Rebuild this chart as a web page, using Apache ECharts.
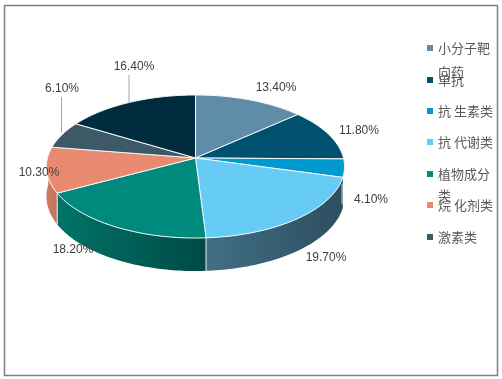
<!DOCTYPE html>
<html><head><meta charset="utf-8">
<style>html,body{margin:0;padding:0;background:#fff}#c{width:502px;height:379px}</style>
<script src="https://cdn.jsdelivr.net/npm/echarts@6/dist/echarts.min.js"></script>
</head><body><div id="c"></div>
<script>
const categories = ['小分子靶向药','单抗','抗 生素类','抗 代谢类','植物成分类','烷 化剂类','激素类','其他'];
const legendFirstLines = ['小分子靶','单抗','抗 生素类','抗 代谢类','植物成分','烷 化剂类','激素类'];
const legendSecondLines = ['向药','','','','类','',''];
const shares = [13.4,11.8,4.1,19.7,18.2,10.3,6.1,16.4];
const colors = ['#5f8ca6','#00506f','#0099d0','#66ccf5','#008a7e','#e88a70','#3d5866','#002c3f'];
const sideColors = [null,null,null,['#426f85','#2d4e5f'],['#007468','#004a45'],['#cb7a60','#c67358'],null,null];
const labelAnchors = [[276,88],[359,131],[371,200],[326,258],[73,250],[39,173],[62,89],[134,67]];
const leaders = [null,null,[[342,184],[342,204]],null,null,null,[[61.5,133],[61.5,97]],[[129,103],[129,75]]];
const legendCenters = [48,80,111,142,174,205,237];
const secondLineCenters = [72,0,0,0,195,0,0];
const geo = {cx:195.5,cy:158,R:148,S:70.5,k:0.119};
const project = a => { const u=Math.sin(a), v=-Math.cos(a), d=1-geo.k*v;
  return [geo.cx+geo.R*u/d, geo.cy+geo.S*v/d, v]; };
const arc = (a0,a1) => { const n=Math.max(2,Math.ceil((a1-a0)/0.02)), p=[];
  for(let i=0;i<=n;i++) p.push(project(a0+(a1-a0)*i/n)); return p; };
const total = shares.reduce((a,b)=>a+b,0);
const rad = p => p/total*2*Math.PI;
const drop = v => 29.5+3.5*v;

function makeRender(idx){
  const before = shares.slice(0,idx).reduce((a,b)=>a+b,0);
  return function(params,api){
    const a0=rad(before), a1=rad(before+api.value(0));
    const children=[];
    const sA=Math.max(a0,rad(25.4)), sB=Math.min(a1,rad(75.6));
    if(sB>sA && sideColors[idx]){
      const t=arc(sA,sB), b=t.slice().reverse().map(p=>[p[0],p[1]+drop(p[2])]);
      const sc=sideColors[idx];
      children.push({type:'polygon',z2:1,shape:{points:t.map(p=>[p[0],p[1]]).concat(b)},
        style:{fill:new echarts.graphic.LinearGradient(0,0,1,0,[{offset:0,color:sc[0]},{offset:1,color:sc[1]}]),stroke:null}});
      if(idx===3||idx===4){
        const e=project(a1);
        children.push({type:'line',z2:2,shape:{x1:e[0],y1:e[1],x2:e[0],y2:e[1]+drop(e[2])},style:{stroke:'#e8eef0',lineWidth:1}});
      }
    }
    const top=[[geo.cx,geo.cy]].concat(arc(a0,a1).map(p=>[p[0],p[1]]));
    children.push({type:'polygon',z2:3,shape:{points:top},style:{fill:colors[idx],stroke:'#f4f8f8',lineWidth:1,lineJoin:'round'}});
    const la=labelAnchors[idx];
    children.push({type:'text',z2:6,x:la[0],y:la[1],style:{text:shares[idx].toFixed(2)+'%',fill:'#404040',font:'12px "Liberation Sans",Arial,sans-serif',textAlign:'center',textVerticalAlign:'middle'}});
    if(leaders[idx]){const L=leaders[idx];children.push({type:'line',z2:5,shape:{x1:L[0][0],y1:L[0][1],x2:L[1][0],y2:L[1][1]},style:{stroke:idx===2?'#cfcfcf':'#a6a6a6',lineWidth:1}});}
    return {type:'group',children};
  };
}
const series = categories.map((name,i)=>({
  type:'custom',name,coordinateSystem:'none',silent:true,animation:false,clip:false,
  itemStyle:{color:colors[i]},
  encode:{value:0},data:[[shares[i]]],renderItem:makeRender(i)
}));
const legendFont='"Noto Sans CJK SC","Liberation Sans",sans-serif';
const legend = categories.slice(0,7).map((name,i)=>({
  data:[{name,icon:'rect',itemStyle:{color:colors[i]}}],
  left:427,top:legendCenters[i]-8,orient:'vertical',
  itemWidth:6,itemHeight:6,itemGap:0,padding:0,
  formatter:()=>legendFirstLines[i],
  textStyle:{color:'#595959',fontSize:13,fontFamily:legendFont,lineHeight:16,padding:[0,0,0,0]}
}));
const graphic=[{type:'rect',silent:true,z:100,shape:{x:4.5,y:5.5,width:493,height:370},style:{fill:'none',stroke:'#7f7f7f',lineWidth:1.5}}]
 .concat(legendSecondLines.map((t,i)=>t?{type:'text',silent:true,z:50,x:438,y:secondLineCenters[i],style:{text:t,fill:'#595959',font:'13px '+legendFont,textVerticalAlign:'middle'}}:null).filter(Boolean));
const chart=echarts.init(document.getElementById('c'),null,{renderer:'canvas'});
chart.setOption({animation:false,backgroundColor:'#fff',legend,graphic,series});
</script></body></html>
